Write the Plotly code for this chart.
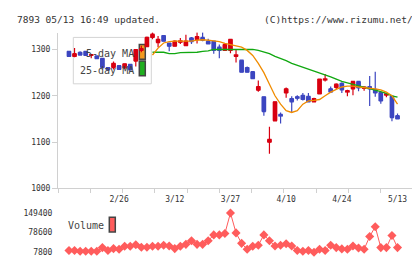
import plotly.graph_objects as go

W, H = 420, 259

dates = ["2/13","2/14","2/15","2/18","2/19","2/20","2/21","2/22","2/25","2/26",
         "2/27","2/28","3/1","3/4","3/5","3/6","3/7","3/8","3/11","3/12",
         "3/13","3/14","3/15","3/18","3/19","3/21","3/22","3/25","3/26","3/27",
         "3/28","3/29","4/1","4/2","4/3","4/4","4/5","4/8","4/9","4/10",
         "4/11","4/12","4/15","4/16","4/17","4/18","4/19","4/22","4/23","4/24",
         "4/25","4/26","4/30","5/1","5/2","5/7","5/8","5/9","5/10","5/13"]
tick_dates = ["2/26", "3/12", "3/27", "4/10", "4/24", "5/13"]

opens = [1296,1285,1294,1296,1287,1286,1281,1261,1261,1265,
         1260,1268,1275,1298,1306,1326,1315,1330,1314,1307,
         1316,1308,1325,1321,1326,1318,1318,1305,1298,1298,
         1285,1277,1261,1252,1212,1198,1100,1146,1160,1206,
         1194,1198,1201,1199,1187,1204,1235,1215,1218,1227,
         1209,1215,1231,1216,1220,1214,1207,1202,1199,1157]
highs = [1297,1303,1296,1297,1290,1287,1282,1262,1274,1266,
         1270,1269,1301,1308,1328,1337,1329,1331,1315,1320,
         1325,1332,1327,1337,1337,1323,1319,1311,1312,1323,
         1299,1278,1263,1253,1233,1199,1133,1188,1164,1218,
         1199,1201,1206,1206,1196,1237,1247,1220,1227,1229,
         1213,1232,1232,1220,1243,1252,1208,1206,1201,1162]
lows = [1284,1283,1287,1286,1281,1279,1260,1254,1257,1256,
        1258,1255,1263,1294,1305,1322,1305,1317,1296,1306,
        1312,1307,1312,1313,1318,1311,1291,1281,1297,1292,
        1272,1250,1250,1236,1209,1157,1075,1145,1140,1196,
        1164,1190,1190,1186,1186,1203,1231,1207,1214,1206,
        1199,1201,1210,1211,1178,1198,1183,1197,1145,1149]
closes = [1285,1291,1288,1287,1289,1280,1261,1256,1270,1257,
          1269,1256,1300,1302,1326,1333,1322,1318,1307,1318,
          1318,1318,1317,1328,1320,1312,1298,1298,1311,1322,
          1288,1251,1251,1237,1220,1166,1106,1187,1157,1215,
          1187,1195,1192,1187,1194,1236,1236,1208,1225,1213,
          1211,1231,1217,1218,1215,1206,1189,1204,1153,1150]

ma5 = [None]*15 + [1288,1303,1314,1317,1318,1318,1317,1318,1320,1321,
                   1320,1319,1317,1313,1310,1308,1305,1298,1287,1270,
                   1250,1225,1200,1182,1168,1164,1168,1182,1189,1190,
                   1192,1200,1208,1214,1219,1221,1221,1219,1218,1217,
                   1215,1213,1208,1200,1182]
ma25 = [None]*15 + [1294,1294,1294,1291,1291,1293,1293,1294,1294,1296,
                    1297,1300,1300,1300,1300,1300,1300,1300,1300,1298,
                    1295,1291,1285,1281,1276,1270,1266,1261,1257,1254,
                    1250,1246,1241,1236,1231,1228,1225,1222,1219,1216,
                    1212,1209,1205,1200,1197]

volume = [13700,13700,11300,11300,11300,11300,24300,13700,20800,18400,
          29000,29000,34900,25500,25500,29000,29000,32600,30200,20800,
          29000,36100,49100,36100,36100,49100,70300,70300,75100,149400,
          77400,39700,18400,29000,32600,70300,49100,30200,32600,38500,
          30200,13700,11300,13700,7800,18400,13700,32600,24300,19600,
          18400,30200,23100,18400,64400,99800,24300,24300,68000,24300]

idx = list(range(len(dates)))
tickvals = [dates.index(d) for d in tick_dates]

XL, XR = 50, 405
def px(x):
    return x / W
def py(y):
    return (H - y) / H

x_lo, x_hi = -1.97, 61.78
minor_ticks = [x_lo + k * (x_hi - x_lo) / 11 for k in range(12)]

RED = "#d80010"
BLUE = "#3c46c0"
ORANGE = "#f08c00"
GREEN = "#11a811"
VOL = "#ff5c5c"
AX = "#d0d0d0"
TXT = "#333333"

MIN_BODY = 1.6
body_base = [min(o, c) for o, c in zip(opens, closes)]
body_len = [max(abs(c - o), MIN_BODY) for o, c in zip(opens, closes)]
body_col = [RED if c >= o else BLUE for o, c in zip(opens, closes)]

fig = go.Figure()

fig.add_trace(go.Scatter(x=idx, y=ma25, mode="lines", line=dict(color=GREEN, width=1.3),
                         hoverinfo="skip", showlegend=False, xaxis="x", yaxis="y"))
fig.add_trace(go.Scatter(x=idx, y=ma5, mode="lines", line=dict(color=ORANGE, width=1.3),
                         hoverinfo="skip", showlegend=False, xaxis="x", yaxis="y"))
fig.add_trace(go.Candlestick(
    x=idx, open=opens, high=highs, low=lows, close=closes,
    increasing=dict(line=dict(color=RED, width=1.2), fillcolor=RED),
    decreasing=dict(line=dict(color=BLUE, width=1.2), fillcolor=BLUE),
    whiskerwidth=0, showlegend=False, xaxis="x", yaxis="y"))
fig.add_trace(go.Bar(x=idx, y=body_len, base=body_base, width=0.84,
                     marker=dict(color=body_col, line=dict(width=0)),
                     hoverinfo="skip", showlegend=False, xaxis="x", yaxis="y"))

fig.add_trace(go.Scatter(x=idx, y=volume, mode="lines+markers",
                         line=dict(color=VOL, width=1),
                         marker=dict(symbol="diamond", size=7, color=VOL),
                         showlegend=False, xaxis="x2", yaxis="y2"))

mono = "DejaVu Sans Mono"
tickfont = dict(family=mono, size=8, color=TXT)

fig.update_layout(
    width=W, height=H,
    margin=dict(l=0, r=0, t=0, b=0),
    paper_bgcolor="white", plot_bgcolor="white",
    showlegend=False, barmode="overlay",
    xaxis=dict(domain=[px(XL), px(XR)], range=[x_lo, x_hi], anchor="y",
               showline=True, linecolor=AX, linewidth=1,
               tickmode="array", tickvals=tickvals, ticktext=tick_dates,
               ticks="", tickfont=tickfont, ticklabelstandoff=3,
               minor=dict(tickmode="array", tickvals=minor_ticks, ticks="outside",
                          ticklen=4, tickcolor=AX, showgrid=False),
               showgrid=False, zeroline=False, rangeslider=dict(visible=False)),
    yaxis=dict(domain=[py(184), py(25)], range=[1000, 1336.6], anchor="x",
               showline=True, linecolor=AX, linewidth=1,
               tickmode="array", tickvals=[1000, 1100, 1200, 1300],
               ticks="outside", ticklen=5, tickcolor=AX, tickfont=tickfont,
               ticksuffix="\u2002",
               showgrid=False, zeroline=False),
    xaxis2=dict(domain=[px(XL), px(XR)], range=[x_lo, x_hi], anchor="y2",
                showline=False, showticklabels=False, ticks="", showgrid=False,
                zeroline=False),
    yaxis2=dict(domain=[py(255), py(203)], range=[-13440, 170640], anchor="x2",
                showline=False, tickmode="array",
                tickvals=[min(volume), (min(volume) + max(volume)) / 2, max(volume)],
                ticktext=[str(min(volume)), str(int((min(volume) + max(volume)) / 2)), str(max(volume))],
                ticks="outside", ticklen=3, tickcolor="rgba(0,0,0,0)", tickfont=tickfont,
                ticksuffix="\u2002",
                showgrid=False, zeroline=False),
)

def xd(p):
    return (p - XL) / (XR - XL)
def yd(p):
    return (184 - p) / (184 - 25)

shapes = [
    dict(type="rect", xref="x domain", yref="y domain", layer="below",
         x0=xd(65.3), x1=xd(143.3), y0=yd(77.3), y1=yd(30),
         line=dict(color="#d4d4d4", width=1), fillcolor="white"),
    dict(type="rect", xref="x domain", yref="y domain", layer="below",
         x0=xd(131.3), x1=xd(137.3), y0=yd(52.3), y1=yd(37.3),
         line=dict(color="#444444", width=1.5), fillcolor="#f39a1e"),
    dict(type="rect", xref="x domain", yref="y domain", layer="below",
         x0=xd(131.3), x1=xd(137.3), y0=yd(69), y1=yd(54),
         line=dict(color="#444444", width=1.5), fillcolor="#20b020"),
    dict(type="rect", xref="paper", yref="paper", layer="above",
         x0=px(101.3), x1=px(107.3), y0=py(228.3), y1=py(213.3),
         line=dict(color="#444444", width=1.5), fillcolor="#ff5c5c"),
]
fig.update_layout(shapes=shapes)

annots = [
    dict(text="7893 05/13 16:49 updated.", x=px(7), y=py(12), xanchor="left", yanchor="middle",
         font=dict(family=mono, size=9.5, color=TXT)),
    dict(text="(C)https://www.rizumu.net/", x=px(254), y=py(12), xanchor="left", yanchor="middle",
         font=dict(family=mono, size=9.5, color=TXT)),
    dict(text="5-day MA", x=px(75.5), y=py(46), xanchor="left", yanchor="middle",
         font=dict(family=mono, size=10, color="#444444")),
    dict(text="25-day MA", x=px(69.5), y=py(63.3), xanchor="left", yanchor="middle",
         font=dict(family=mono, size=10, color="#444444")),
    dict(text="Volume", x=px(57.5), y=py(222), xanchor="left", yanchor="middle",
         font=dict(family=mono, size=10, color="#444444")),
]
for a in annots:
    a.update(xref="paper", yref="paper", showarrow=False)
fig.update_layout(annotations=annots)

fig.write_html("out.html")
